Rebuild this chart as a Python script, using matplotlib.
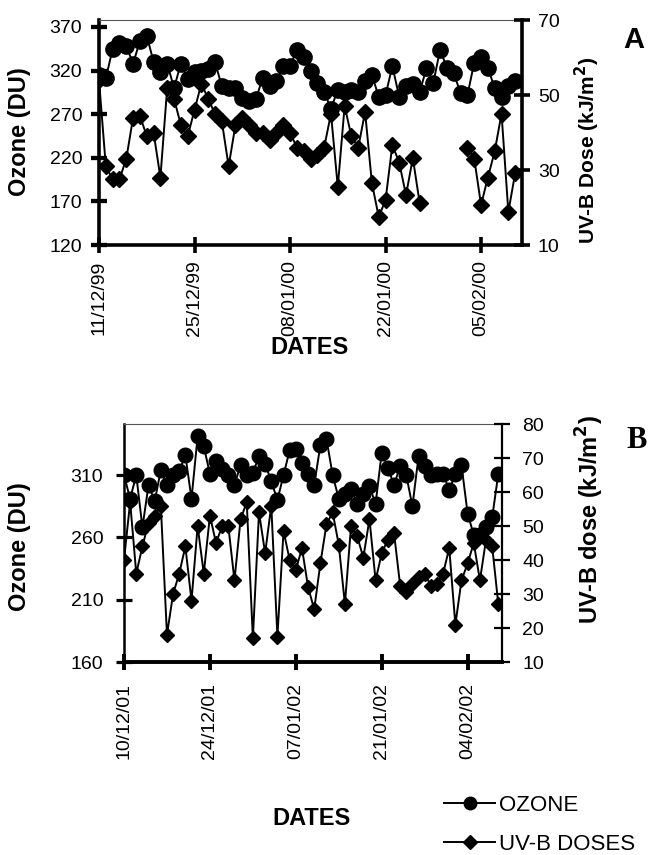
import numpy as np
import pandas as pd
import matplotlib
matplotlib.use("Agg")
import matplotlib.pyplot as plt
import matplotlib.dates as mdates
from matplotlib.lines import Line2D

plt.rcParams['font.family'] = ['Liberation Sans', 'DejaVu Sans']

# ---------------- Panel A: 11/12/1999 onwards (daily) ----------------
start_a = "1999-12-11"
ozone_a = [315, 311, 345, 352, 348, 328, 354, 360, 330, 318,
           328, 300, 328, 310, 318, 320, 322, 330, 302, 300,
           300, 289, 285, 287, 312, 302, 308, 325, 325, 344,
           335, 320, 306, 296, 276, 298, 296, 298, 295, 308,
           315, 290, 292, 325, 290, 302, 305, 295, 323, 306,
           344, 323, 317, 294, 292, 329, 336, 323, 300, 290,
           302, 308]
uvb_a = [54, 31, 27.5, 27.5, 33, 44, 44.5, 39, 40, 28,
         52, 49, 42, 39, 46, 53, 49, 45, 43, 31,
         42, 44, 42, 40, 40, 38, 40, 42, 40, 36,
         35, 33, 34, 36, 45, 25.5, 47, 39, 36, 45.5,
         26.5, 17.5, 22, 36.7, 32, 23.3, 33.2, 21.2, np.nan, np.nan,
         np.nan, np.nan, np.nan, np.nan, 36, 33, 20.7, 28, 35, 45,
         18.8, 29.2]
ticks_a = ["1999-12-11", "1999-12-25", "2000-01-08", "2000-01-22", "2000-02-05"]

# ---------------- Panel B: 10/12/2001 onwards (daily) ----------------
start_b = "2001-12-10"
ozone_b = [310, 291, 310, 268, 302, 289, 314, 302, 310, 313,
           326, 291, 341, 333, 311, 321, 315, 310, 302, 318,
           310, 312, 325, 319, 305, 290, 310, 330, 331, 320,
           311, 302, 334, 339, 310, 291, 295, 299, 287, 295,
           301, 287, 328, 316, 302, 317, 310, 285, 325, 317,
           310, 311, 311, 298, 311, 318, 279, 262, 262, 268,
           276, 311]
uvb_b = [40, 57, 36, 44, 51, 53, 56, 18, 30, 36,
         44, 28, 50, 36, 53, 45, 50, 50, 34, 52,
         57, 17, 54, 42, 56, 17.5, 48.5, 40, 37, 43.5,
         32, 25.5, 39, 50.5, 54, 44.5, 27, 50, 47, 40.7,
         52, 34, 42, 46, 48, 32.5, 30.5, 33, 35, 36,
         32.5, 33, 36, 43.5, 21, 34, 39, 45, 34, 46,
         44, 27]
ticks_b = ["2001-12-10", "2001-12-24", "2002-01-07", "2002-01-21", "2002-02-04"]

W, H = 651, 855
fig = plt.figure(figsize=(W / 100, H / 100), dpi=100)


def rect(x0, y0, x1, y1):
    return [x0 / W, 1 - y1 / H, (x1 - x0) / W, (y1 - y0) / H]


def panel(box, start, ozone, uvb, ticks, span_days, ylim_l, yticks_l, ylim_r, yticks_r,
          lw_left, lw_bottom, lw_right, circ_ms, diam_ms, pad_l, pad_x, pad_r):
    dates = pd.date_range(start, periods=len(ozone), freq="D")
    ax = fig.add_axes(box)
    ax2 = ax.twinx()
    ax.plot(dates, ozone, color="black", lw=1.4, marker="o", ms=circ_ms, zorder=3)
    ax2.plot(dates, uvb, color="black", lw=1.4, marker="D", ms=diam_ms, zorder=3)

    t0 = pd.Timestamp(start)
    ax.set_xlim(t0, t0 + pd.Timedelta(days=span_days))
    ax.set_ylim(*ylim_l)
    ax.set_yticks(yticks_l)
    ax2.set_ylim(*ylim_r)
    ax2.set_yticks(yticks_r)
    ax.set_xticks(pd.to_datetime(ticks))
    ax.xaxis.set_major_formatter(mdates.DateFormatter("%d/%m/%y"))
    for lab in ax.get_xticklabels():
        lab.set_rotation(90)

    ax.spines["top"].set_linewidth(0.8)
    ax.spines["top"].set_color("#555555")
    ax.spines["right"].set_visible(False)
    ax.spines["left"].set_linewidth(lw_left)
    ax.spines["bottom"].set_linewidth(lw_bottom)
    for s in ("left", "top", "bottom"):
        ax2.spines[s].set_visible(False)
    ax2.spines["right"].set_linewidth(lw_right)

    ax.tick_params(axis="y", direction="inout", length=12, width=lw_left + 0.5,
                   labelsize=14, pad=pad_l)
    ax.tick_params(axis="x", direction="inout", length=12, width=lw_bottom,
                   labelsize=14, pad=pad_x)
    ax2.tick_params(axis="y", direction="inout", length=11, width=lw_right,
                    labelsize=14, pad=pad_r)
    return ax, ax2


# Panel A
panel(rect(99, 20, 522, 245), start_a, ozone_a, uvb_a, ticks_a, 62,
      (120, 378), [120, 170, 220, 270, 320, 370], (10, 70), [10, 30, 50, 70],
      2.6, 2.6, 2.6, 11, 8.5, 6, 5, 6)
fig.text(20 / W, 1 - 132 / H, "Ozone (DU)", rotation=90, ha="center", va="center",
         fontsize=17, fontweight="bold")
fig.text(587 / W, 1 - 150 / H, "UV-B Dose (kJ/m$^{\\mathbf{2}}$)", rotation=90,
         ha="center", va="center", fontsize=15, fontweight="bold")
fig.text(310 / W, 1 - 348 / H, "DATES", ha="center", va="center",
         fontsize=17, fontweight="bold")
fig.text(634 / W, 1 - 40 / H, "A", ha="center", va="center",
         fontsize=21, fontweight="bold")

# Panel B
panel(rect(124, 424, 502, 662), start_b, ozone_b, uvb_b, ticks_b, 61.6,
      (160, 351), [160, 210, 260, 310], (10, 80), list(range(10, 81, 10)),
      1.8, 2.8, 1.6, 10.5, 7.6, 9, 9, 9)
fig.text(20 / W, 1 - 547 / H, "Ozone (DU)", rotation=90, ha="center", va="center",
         fontsize=17, fontweight="bold")
fig.text(590 / W, 1 - 520 / H, "UV-B dose (kJ/m$^{\\mathbf{2}}$)", rotation=90,
         ha="center", va="center", fontsize=17, fontweight="bold")
fig.text(312 / W, 1 - 818 / H, "DATES", ha="center", va="center",
         fontsize=17, fontweight="bold")
fig.text(637 / W, 1 - 440 / H, "B", ha="center", va="center", fontsize=22,
         fontweight="bold", family=["Liberation Serif", "DejaVu Serif"])

# Legend
handles = [Line2D([], [], color="black", lw=1.4, marker="o", ms=9),
           Line2D([], [], color="black", lw=1.4, marker="D", ms=7)]
fig.legend(handles, ["OZONE", "UV-B DOSES"], loc="center left",
           bbox_to_anchor=(433 / W, 1 - 825 / H), frameon=False, fontsize=16,
           handlelength=2.3, handletextpad=0.15, labelspacing=0.8, borderpad=0)

fig.savefig("out.png", dpi=100)
